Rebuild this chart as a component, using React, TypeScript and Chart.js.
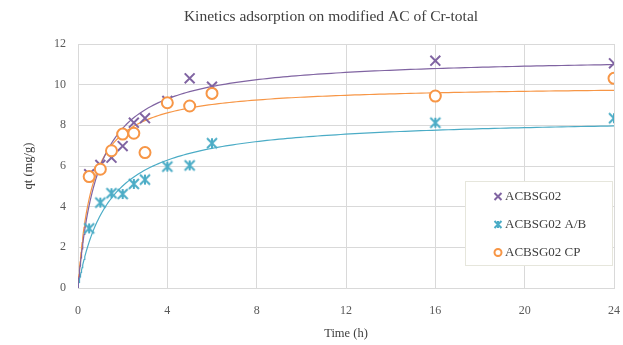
import React, { useEffect, useRef } from 'react';
import { Chart, registerables } from 'chart.js';
Chart.register(...registerables);

const TITLE = 'Kinetics adsorption on modified AC of Cr-total';
const X_TITLE = 'Time (h)';
const Y_TITLE = 'qt (mg/g)';
const TIME = [0.5, 1, 1.5, 2, 2.5, 3, 4, 5, 6, 16, 24];
const ACBSG02 = [5.6, 6.05, 6.41, 6.98, 8.13, 8.35, 9.2, 10.31, 9.9, 11.18, 11.05];
const ACBSG02_AB = [2.93, 4.2, 4.66, 4.62, 5.12, 5.33, 5.97, 6.03, 7.12, 8.13, 8.35];
const ACBSG02_CP = [5.48, 5.84, 6.75, 7.57, 7.61, 6.66, 9.11, 8.95, 9.57, 9.44, 10.31];
const SERIES_NAMES = ['ACBSG02', 'ACBSG02 A/B', 'ACBSG02 CP'];
const COLORS = ['#8064a2', '#4bacc6', '#f79646'];
const X_MIN = 0, X_MAX = 24, X_STEP = 4;
const Y_MIN = 0, Y_MAX = 12, Y_STEP = 2;

const FONT = "'Liberation Serif', 'Times New Roman', serif";

// pseudo-second-order fit (nonlinear least squares) of q = k qe^2 t / (1 + k qe t)
function fitPSO(t: number[], q: number[]) {
  let best = { qe: 1, k: 0.1, sse: Infinity };
  for (let qe = 3; qe <= 16; qe += 0.02) {
    for (let i = 0; i <= 400; i++) {
      const k = Math.pow(10, -3 + (i * 3) / 400);
      let sse = 0;
      for (let j = 0; j < t.length; j++) {
        const p = (k * qe * qe * t[j]) / (1 + k * qe * t[j]);
        sse += (p - q[j]) * (p - q[j]);
      }
      if (sse < best.sse) best = { qe, k, sse };
    }
  }
  return best;
}

function trendPoints(q: number[]) {
  const { qe, k } = fitPSO(TIME, q);
  const pts: { x: number; y: number }[] = [];
  const N = 160;
  for (let i = 0; i <= N; i++) {
    const t = X_MAX * Math.pow(i / N, 2);
    pts.push({ x: t, y: (k * qe * qe * t) / (1 + k * qe * t) });
  }
  return pts;
}

function drawStar(ctx: CanvasRenderingContext2D, cx: number, cy: number, r: number, color: string, lw: number) {
  ctx.save();
  ctx.strokeStyle = color;
  ctx.lineWidth = lw;
  ctx.beginPath();
  ctx.moveTo(cx - r, cy - r); ctx.lineTo(cx + r, cy + r);
  ctx.moveTo(cx + r, cy - r); ctx.lineTo(cx - r, cy + r);
  ctx.moveTo(cx, cy - r); ctx.lineTo(cx, cy + r);
  ctx.stroke();
  ctx.restore();
}

function makeStarCanvas(size: number, color: string) {
  const c = document.createElement('canvas');
  c.width = size; c.height = size;
  const ctx = c.getContext('2d')!;
  drawStar(ctx, size / 2, size / 2, size / 2 - 2, color, 2);
  return c;
}

const overlayPlugin = {
  id: 'overlay',
  afterDraw(chart: any) {
    const ctx = chart.ctx as CanvasRenderingContext2D;
    ctx.save();
    // title
    ctx.fillStyle = '#404040';
    ctx.font = `15.5px ${FONT}`;
    ctx.textAlign = 'center';
    ctx.textBaseline = 'middle';
    ctx.fillText(TITLE, 331, 17);
    // legend box
    const bx = 465, by = 181, bw = 147, bh = 84;
    ctx.fillStyle = '#ffffff';
    ctx.fillRect(bx, by, bw, bh);
    ctx.strokeStyle = '#e6e6dc';
    ctx.lineWidth = 1;
    ctx.strokeRect(bx + 0.5, by + 0.5, bw, bh);
    const rows = [196.5, 224.5, 252.5];
    ctx.font = `13px ${FONT}`;
    ctx.textAlign = 'left';
    rows.forEach((y, i) => {
      const mx = 498;
      if (i === 0) {
        ctx.strokeStyle = COLORS[0];
        ctx.lineWidth = 2;
        ctx.beginPath();
        ctx.moveTo(mx - 3.5, y - 3.5); ctx.lineTo(mx + 3.5, y + 3.5);
        ctx.moveTo(mx + 3.5, y - 3.5); ctx.lineTo(mx - 3.5, y + 3.5);
        ctx.stroke();
      } else if (i === 1) {
        drawStar(ctx, mx, y, 3.5, COLORS[1], 2);
      } else {
        ctx.strokeStyle = COLORS[2];
        ctx.lineWidth = 2;
        ctx.fillStyle = '#fff';
        ctx.beginPath();
        ctx.arc(mx, y, 3.5, 0, Math.PI * 2);
        ctx.fill();
        ctx.stroke();
      }
      ctx.fillStyle = '#404040';
      ctx.textBaseline = 'middle';
      ctx.fillText(SERIES_NAMES[i], 505, y + 0.5);
    });
    ctx.restore();
  },
};

export default function App() {
  const ref = useRef<HTMLCanvasElement>(null);
  useEffect(() => {
    const toXY = (ys: number[]) => TIME.map((t, i) => ({ x: t, y: ys[i] }));
    const starImg = makeStarCanvas(14, COLORS[1]);
    const chart = new Chart(ref.current!, {
      type: 'scatter',
      data: {
        datasets: [
          {
            label: SERIES_NAMES[0], data: toXY(ACBSG02), order: 2,
            pointStyle: 'crossRot', pointRadius: 7, pointBorderWidth: 2,
            borderColor: COLORS[0], backgroundColor: COLORS[0], showLine: false,
          },
          {
            label: SERIES_NAMES[1], data: toXY(ACBSG02_AB), order: 1,
            pointStyle: starImg as any, pointRadius: 7,
            borderColor: COLORS[1], backgroundColor: COLORS[1], showLine: false,
          },
          {
            label: SERIES_NAMES[2], data: toXY(ACBSG02_CP), order: 0,
            pointStyle: 'circle', pointRadius: 5.5, pointBorderWidth: 2,
            borderColor: COLORS[2], backgroundColor: '#ffffff', showLine: false,
          },
          {
            label: 'fit1', data: trendPoints(ACBSG02), order: 3, showLine: true,
            borderColor: COLORS[0], borderWidth: 1.2, pointRadius: 0, tension: 0,
          },
          {
            label: 'fit2', data: trendPoints(ACBSG02_AB), order: 4, showLine: true,
            borderColor: COLORS[1], borderWidth: 1.2, pointRadius: 0, tension: 0,
          },
          {
            label: 'fit3', data: trendPoints(ACBSG02_CP), order: 5, showLine: true,
            borderColor: COLORS[2], borderWidth: 1.2, pointRadius: 0, tension: 0,
          },
        ],
      },
      options: {
        responsive: false,
        animation: false,
        layout: { padding: { top: 44, right: 8, left: 0, bottom: 0 } },
        plugins: { legend: { display: false }, title: { display: false }, tooltip: { enabled: false } },
        scales: {
          x: {
            type: 'linear', min: X_MIN, max: X_MAX,
            ticks: { stepSize: X_STEP, color: '#595959', padding: 16, font: { family: FONT, size: 12 } },
            grid: { color: '#d9d9d9', drawTicks: false },
            border: { color: '#d9d9d9' },
            title: { display: true, text: X_TITLE, color: '#404040', font: { family: FONT, size: 12.5 }, padding: { top: 0, bottom: 4 } },
            afterFit: (s: any) => { s.height = 57; s.paddingLeft = 0; s.paddingRight = 0; },
          },
          y: {
            type: 'linear', min: Y_MIN, max: Y_MAX,
            ticks: { stepSize: Y_STEP, color: '#595959', padding: 12, font: { family: FONT, size: 12 } },
            grid: { color: '#d9d9d9', drawTicks: false },
            border: { color: '#d9d9d9' },
            title: { display: true, text: Y_TITLE, color: '#404040', font: { family: FONT, size: 12.5 }, padding: { top: 21, bottom: 0 } },
            afterFit: (s: any) => { s.width = 78; s.paddingTop = 0; s.paddingBottom = 0; },
          },
        },
      },
      plugins: [overlayPlugin],
    });
    return () => chart.destroy();
  }, []);
  return (
    <div style={{ position: 'absolute', left: 0, top: 0, width: 623, height: 345, background: '#fff' }}>
      <canvas ref={ref} width={623} height={345} style={{ display: 'block' }} />
    </div>
  );
}
